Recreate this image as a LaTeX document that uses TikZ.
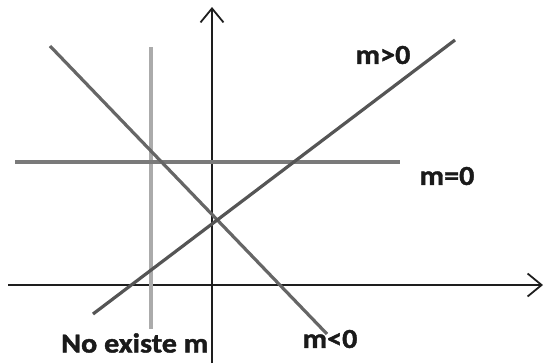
\documentclass[tikz,border=0pt]{standalone}
\usepackage{fontspec}
\setmainfont[FakeStretch=1.1, BoldFeatures={FakeBold=1.5}]{Carlito}
\usetikzlibrary{arrows.meta}
\definecolor{axiscol}{HTML}{1E1E1E}
\definecolor{posline}{HTML}{555555}
\definecolor{negline}{HTML}{666666}
\definecolor{zeroline}{HTML}{7A7A7A}
\definecolor{vertline}{HTML}{ABABAB}
\definecolor{labelcol}{HTML}{1A1A1A}
\tikzset{
  axis/.style={draw=axiscol, line width=2bp, -{Straight Barb[length=14bp,width=23bp,line width=1.8bp]}},
  graphline/.style={line width=3.2bp},
  lbl/.style={font=\fontsize{27.5}{27.5}\selectfont\bfseries, text=labelcol, inner sep=0pt}
}
\begin{document}
\begin{tikzpicture}[x=1bp,y=-1bp]
\useasboundingbox (0,0) rectangle (545,363);
% axes
\coordinate (xs) at (8,285);
\coordinate (xe) at (543,285);
\coordinate (ys) at (212,363);
\coordinate (ye) at (212,7);
\draw[axis] (xs) -- (xe);
\draw[axis] (ys) -- (ye);
% lines
\coordinate (va) at (151,47);
\coordinate (vb) at (151,329);
\draw[graphline, draw=vertline] (va) -- (vb);
\coordinate (ha) at (15,162);
\coordinate (hb) at (400,162);
\draw[graphline, draw=zeroline] (ha) -- (hb);
\coordinate (na) at (50,46);
\coordinate (nb) at (327,334);
\draw[graphline, draw=negline] (na) -- (nb);
\coordinate (pa) at (93,314);
\coordinate (pb) at (455,40);
\draw[graphline, draw=posline] (pa) -- (pb);
% labels
\node[lbl] (lpos) at (383,55) {m>0};
\node[lbl] (lzero) at (447,176) {m=0};
\node[lbl] (lneg) at (330,339) {m<0};
\node[lbl, anchor=west] (lnone) at (61,343) {No existe m};
\end{tikzpicture}
\end{document}
